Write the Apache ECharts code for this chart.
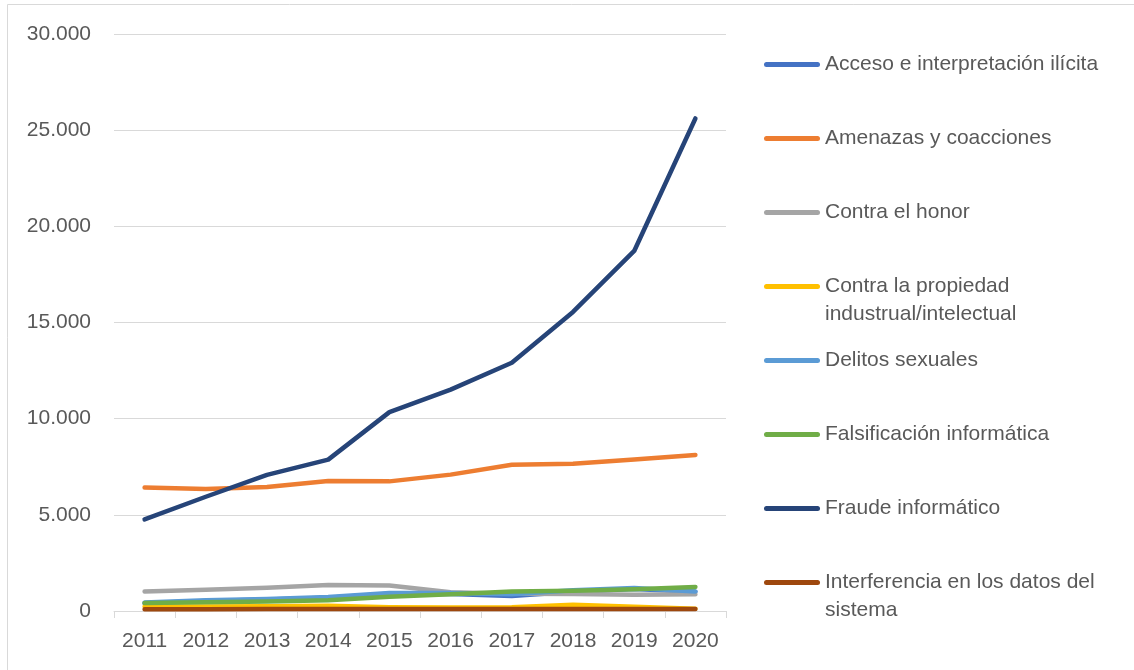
<!DOCTYPE html>
<html>
<head>
<meta charset="utf-8">
<script src="https://cdn.jsdelivr.net/npm/echarts@6/dist/echarts.min.js"></script>
<style>
    html, body { margin: 0; padding: 0; background: #ffffff; }
    #chart { width: 1134px; height: 670px; }
</style>
</head>
<body>
<div id="chart"></div>
<script>
// datos
var years = ['2011', '2012', '2013', '2014', '2015', '2016', '2017', '2018', '2019', '2020'];
var seriesNames = [
    'Acceso e interpretación ilícita',
    'Amenazas y coacciones',
    'Contra el honor',
    'Contra la propiedad industrual/intelectual',
    'Delitos sexuales',
    'Falsificación informática',
    'Fraude informático',
    'Interferencia en los datos del sistema'
];
var acceso = [400, 520, 600, 690, 900, 880, 780, 1000, 1150, 1000];
var amenazas = [6420, 6340, 6450, 6760, 6740, 7090, 7600, 7650, 7880, 8110];
var honor = [1020, 1110, 1210, 1350, 1330, 980, 900, 880, 850, 870];
var propiedad = [230, 240, 250, 270, 200, 180, 200, 330, 220, 120];
var sexuales = [440, 560, 630, 730, 940, 930, 870, 1080, 1190, 1020];
var falsificacion = [420, 450, 500, 560, 740, 870, 1010, 1050, 1130, 1250];
var fraude = [4760, 5940, 7080, 7870, 10340, 11510, 12910, 15550, 18720, 25610];
var interferencia = [90, 95, 100, 100, 110, 110, 110, 110, 110, 100];
var yTicks = [0, 5000, 10000, 15000, 20000, 25000, 30000];

var seriesData = [acceso, amenazas, honor, propiedad, sexuales, falsificacion, fraude, interferencia];
var colorList = ['#4472C4', '#ED7D31', '#A5A5A5', '#FFC000', '#5B9BD5', '#70AD47', '#264478', '#9E480E'];

var textColor = '#595959';
var fontFamily = '"Liberation Sans", Arial, sans-serif';

// nombres largos partidos en dos lineas (la linea vacia deja el icono en la primera)
var wrapped = {
    'Contra la propiedad industrual/intelectual': '\nContra la propiedad\nindustrual/intelectual',
    'Interferencia en los datos del sistema': '\nInterferencia en los datos del\nsistema'
};

// leyenda: un componente por elemento para fijar cada posición
function buildLegends() {
    var legends = [];
    var lineH = 28;
    for (var i = 0; i < seriesNames.length; i++) {
        var name = seriesNames[i];
        var center = 64.5 + 74 * i;
        var twoLines = !!wrapped[name];
        legends.push({
            data: [name],
            left: 764,
            top: twoLines ? center - lineH * 1.5 : center - lineH / 2,
            padding: 0,
            itemWidth: 56,
            itemHeight: 5,
            icon: 'path://M2.5,0 L53.5,0 A2.5,2.5 0 0 1 53.5,5 L2.5,5 A2.5,2.5 0 0 1 2.5,0 Z',
            selectedMode: false,
            formatter: function (n) {
                return wrapped[n] || n;
            },
            textStyle: {
                color: textColor,
                fontSize: 21,
                fontFamily: fontFamily,
                lineHeight: lineH
            }
        });
    }
    return legends;
}

function buildSeries() {
    var list = [];
    for (var i = 0; i < seriesNames.length; i++) {
        list.push({
            name: seriesNames[i],
            type: 'line',
            data: seriesData[i],
            symbol: 'none',
            smooth: false,
            color: colorList[i],
            lineStyle: {
                width: 4.5,
                color: colorList[i],
                cap: 'round',
                join: 'round'
            }
        });
    }
    return list;
}

var myChart = echarts.init(document.getElementById('chart'), null, { renderer: 'canvas' });
var option = {
    backgroundColor: '#ffffff',
    animation: false,
    color: colorList,
    graphic: [{
        type: 'rect',
        shape: { x: 7.5, y: 4.5, width: 1200, height: 800 },
        style: { fill: 'none', stroke: '#d9d9d9', lineWidth: 1 },
        silent: true
    }],
    legend: buildLegends(),
    grid: {
        left: 114,
        right: 408,
        top: 34,
        bottom: 59,
        containLabel: false
    },
    xAxis: {
        type: 'category',
        data: years,
        boundaryGap: true,
        axisLine: { lineStyle: { color: '#d9d9d9', width: 1 } },
        axisTick: { show: true, length: 7, lineStyle: { color: '#d9d9d9' } },
        axisLabel: {
            color: textColor,
            fontSize: 21,
            fontFamily: fontFamily,
            margin: 20
        },
        splitLine: { show: false }
    },
    yAxis: {
        type: 'value',
        min: yTicks[0],
        max: yTicks[yTicks.length - 1],
        interval: yTicks[1] - yTicks[0],
        axisLine: { show: false },
        axisTick: { show: false },
        axisLabel: {
            color: textColor,
            fontSize: 21,
            fontFamily: fontFamily,
            margin: 23,
            formatter: function (v) {
                return v === 0 ? '0' : (v / 1000).toFixed(3);
            }
        },
        splitLine: { lineStyle: { color: '#d9d9d9', width: 1 } }
    },
    series: buildSeries()
};
myChart.setOption(option);
</script>
</body>
</html>
